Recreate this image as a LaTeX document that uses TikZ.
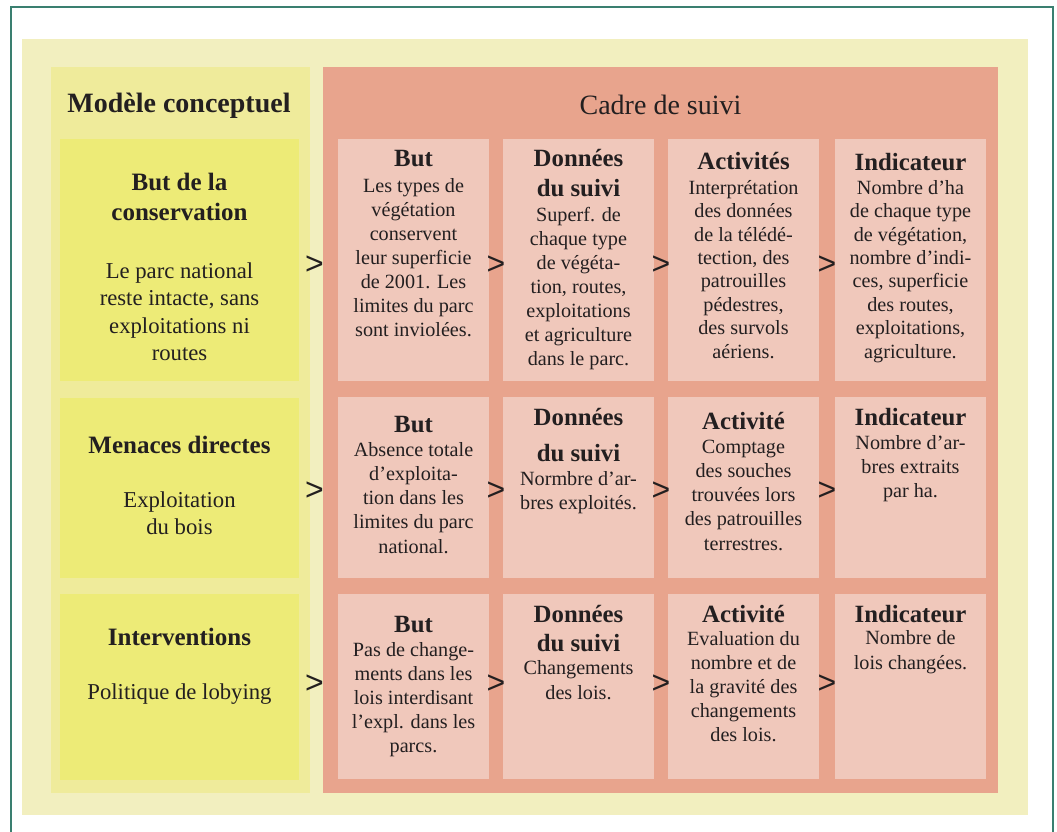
\documentclass[tikz,border=0pt]{standalone}
\usepackage{fontspec}
\setmainfont{Liberation Serif}
\newfontfamily\gtfont{Liberation Sans}
\definecolor{bglight}{HTML}{F2EFBF}
\definecolor{panelyellow}{HTML}{EFEB9B}
\definecolor{boxyellow}{HTML}{EDEB77}
\definecolor{salmon}{HTML}{E8A48D}
\definecolor{boxpink}{HTML}{F0C8BB}
\definecolor{frame}{HTML}{3A7F70}
\definecolor{ink}{HTML}{231F20}
\begin{document}
\begin{tikzpicture}[x=1pt,y=-1pt,
  ybox/.style={fill=boxyellow, inner sep=0pt, outer sep=0pt},
  pbox/.style={fill=boxpink, inner sep=0pt, outer sep=0pt},
  hd/.style={anchor=base, inner sep=0pt, align=center, text=ink, font=\fontsize{24.8}{30}\selectfont\bfseries},
  bd/.style={anchor=base, inner sep=0pt, align=center, text=ink, font=\fontsize{20.2}{24.1}\selectfont},
  bdt/.style={anchor=base, inner sep=0pt, align=center, text=ink, font=\fontsize{20.2}{23.4}\selectfont},
  lhd/.style={anchor=base, inner sep=0pt, align=center, text=ink, font=\fontsize{25}{30}\selectfont\bfseries},
  lbd/.style={anchor=base, inner sep=0pt, align=center, text=ink, font=\fontsize{22.7}{27.5}\selectfont},
  gt/.style={anchor=center, inner sep=0pt, text=ink, font=\gtfont\fontsize{32}{32}\selectfont}]
\useasboundingbox (0,0) rectangle (1057,832);
\fill[white] (0,0) rectangle (1057,832);
% frame
\draw[frame, line width=1.5pt] (11,832) -- (11,7) -- (1053,7) -- (1053,832);
% panels
\node[fill=bglight, inner sep=0pt, minimum width=1006pt, minimum height=776pt] (bg) at (525,427) {};
\node[fill=panelyellow, inner sep=0pt, minimum width=259pt, minimum height=726pt] (lp) at (180.5,430) {};
\node[fill=salmon, inner sep=0pt, minimum width=675pt, minimum height=726pt] (sp) at (660.5,430) {};
% titles
\node[anchor=base, inner sep=0pt, text=ink, font=\fontsize{28}{30}\selectfont\bfseries] (tm) at (179,113) {Modèle conceptuel};
\node[anchor=base, inner sep=0pt, text=ink, font=\fontsize{28}{30}\selectfont] (tc) at (660.5,114) {Cadre de suivi};
% left boxes
\node[ybox, minimum width=239pt, minimum height=242pt] (L1) at (179.5,260) {};
\node[ybox, minimum width=239pt, minimum height=180pt] (L2) at (179.5,488) {};
\node[ybox, minimum width=239pt, minimum height=186pt] (L3) at (179.5,687) {};
% (base anchor of a multi-line node = baseline of its last line)
\node[lhd] (L1h) at (179.5,220) {But de la\\conservation};
\node[lbd] (L1b) at (179.5,360.5) {Le parc national\\reste intacte, sans\\exploitations ni\\routes};
\node[lhd] (L2h) at (179.5,453) {Menaces directes};
\node[lbd] (L2b) at (179.5,534.5) {Exploitation\\du bois};
\node[lhd] (L3h) at (179.5,645) {Interventions};
\node[lbd] (L3b) at (179.5,699) {Politique de lobying};
% pink boxes
\foreach \c/\x in {1/413.5,2/578.5,3/743.5,4/910.5}{
  \node[pbox, minimum width=151pt, minimum height=242pt] (p1\c) at (\x,260) {};
  \node[pbox, minimum width=151pt, minimum height=181pt] (p2\c) at (\x,487.5) {};
  \node[pbox, minimum width=151pt, minimum height=185pt] (p3\c) at (\x,686.5) {};
}
% row 1
\node[hd] (h11) at (413.5,166) {But};
\node[bd] (t11) at (413.5,336.6) {Les types de\\végétation\\conservent\\leur superficie\\de 2001. Les\\limites du parc\\sont inviolées.};
\node[hd] (h12) at (578.5,196) {Données\\du suivi};
\node[bd] (t12) at (578.5,365.6) {Superf. de\\chaque type\\de végéta-\\tion, routes,\\exploitations\\et agriculture\\dans le parc.};
\node[hd] (h13) at (743.5,169) {Activités};
\node[bdt] (t13) at (743.5,358) {Interprétation\\des données\\de la télédé-\\tection, des\\patrouilles\\pédestres,\\des survols\\aériens.};
\node[hd] (h14) at (910.5,170) {Indicateur};
\node[bdt] (t14) at (910.5,358) {Nombre d’ha\\de chaque type\\de végétation,\\nombre d’indi-\\ces, superficie\\des routes,\\exploitations,\\agriculture.};
% row 2
\node[hd] (h21) at (413.5,432) {But};
\node[bd] (t21) at (413.5,553) {Absence totale\\d’exploita-\\tion dans les\\limites du parc\\national.};
\node[hd, font=\fontsize{24.8}{36}\selectfont\bfseries] (h22) at (578.5,461) {Données\\du suivi};
\node[bd] (t22) at (578.5,509.5) {Normbre d’ar-\\bres exploités.};
\node[hd] (h23) at (743.5,429) {Activité};
\node[bd] (t23) at (743.5,550) {Comptage\\des souches\\trouvées lors\\des patrouilles\\terrestres.};
\node[hd] (h24) at (910.5,425) {Indicateur};
\node[bd] (t24) at (910.5,497.5) {Nombre d’ar-\\bres extraits\\par ha.};
% row 3
\node[hd] (h31) at (413.5,632) {But};
\node[bd] (t31) at (413.5,752.5) {Pas de change-\\ments dans les\\lois interdisant\\l’expl. dans les\\parcs.};
\node[hd, font=\fontsize{24.8}{29}\selectfont\bfseries] (h32) at (578.5,651) {Données\\du suivi};
\node[bd] (t32) at (578.5,699) {Changements\\des lois.};
\node[hd] (h33) at (743.5,622) {Activité};
\node[bd] (t33) at (743.5,741.5) {Evaluation du\\nombre et de\\la gravité des\\changements\\des lois.};
\node[hd] (h34) at (910.5,622) {Indicateur};
\node[bd] (t34) at (910.5,669) {Nombre de\\lois changées.};
% > signs
\foreach \r/\y in {1/265,2/491,3/684}{
  \node[gt] (g\r0) at (314.5,\y) {>};
  \node[gt] (g\r1) at (496,\y) {>};
  \node[gt] (g\r2) at (661,\y) {>};
  \node[gt] (g\r3) at (827,\y) {>};
}
\end{tikzpicture}
\end{document}
